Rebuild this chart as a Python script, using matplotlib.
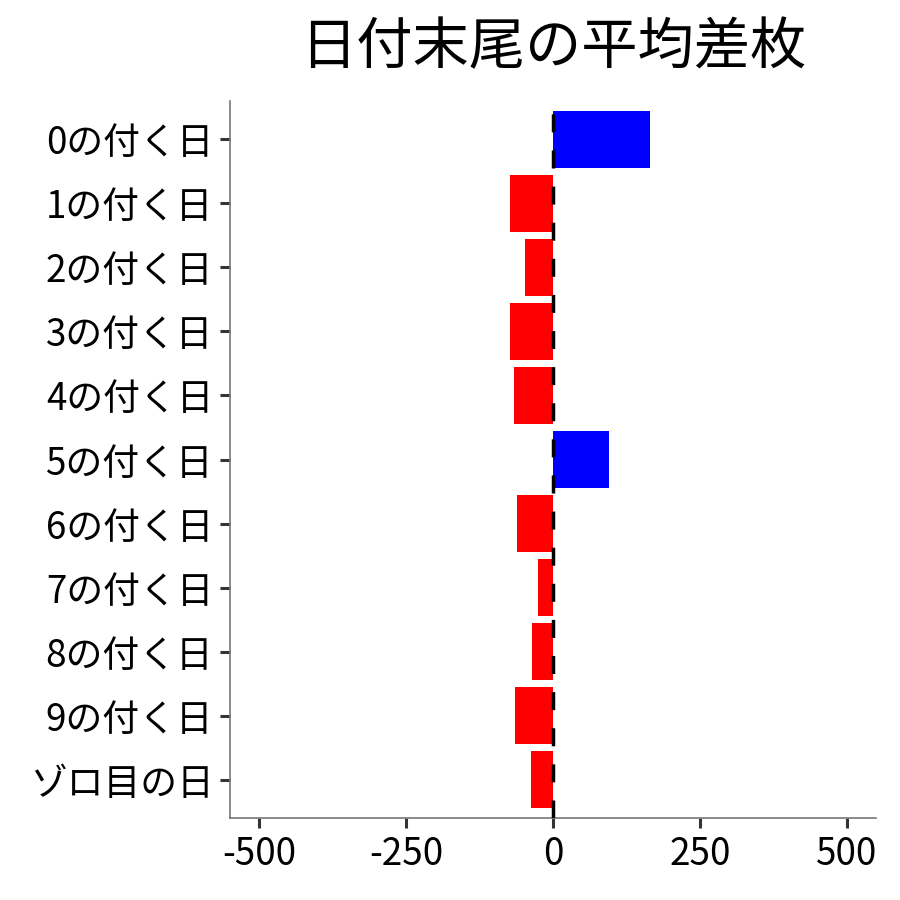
import matplotlib
matplotlib.use("Agg")
import matplotlib.pyplot as plt

plt.rcParams['font.family'] = ['Noto Sans CJK JP', 'DejaVu Sans']

categories = ["0の付く日", "1の付く日", "2の付く日", "3の付く日", "4の付く日",
              "5の付く日", "6の付く日", "7の付く日", "8の付く日", "9の付く日", "ゾロ目の日"]
values = [165, -73, -47, -73, -66, 95, -61, -25, -35, -64, -37]
xticks = [-500, -250, 0, 250, 500]
title = "日付末尾の平均差枚"

fig = plt.figure(figsize=(9, 9), dpi=100)
ax = fig.add_axes([230/900, 1 - 818/900, (876 - 230)/900, (818 - 101)/900])

n = len(categories)
ypos = list(range(n))[::-1]
colors = ["blue" if v > 0 else "red" for v in values]
ax.barh(ypos, values, height=0.9, color=colors, zorder=2)
ax.axvline(0, color="black", linewidth=2.5, linestyle=(0, (5.2, 5.2)), zorder=3)

ax.set_xlim(-550, 550)
ax.set_ylim(-0.6, n - 1 + 0.6)
ax.set_xticks(xticks)
ax.set_xticklabels([str(t) for t in xticks])
ax.set_yticks(ypos)
ax.set_yticklabels(categories)

for s in ["top", "right"]:
    ax.spines[s].set_visible(False)
for s in ["left", "bottom"]:
    ax.spines[s].set_color("#777777")
    ax.spines[s].set_linewidth(1.2)
ax.tick_params(axis="both", length=7, width=2.2, color="#333333", pad=5,
               labelsize=26.5, labelcolor="black")

fig.text((230 + 876) / 2 / 900, 1 - 48/900, title, ha="center", va="center", fontsize=40.5)

fig.savefig("out.png", dpi=100)
